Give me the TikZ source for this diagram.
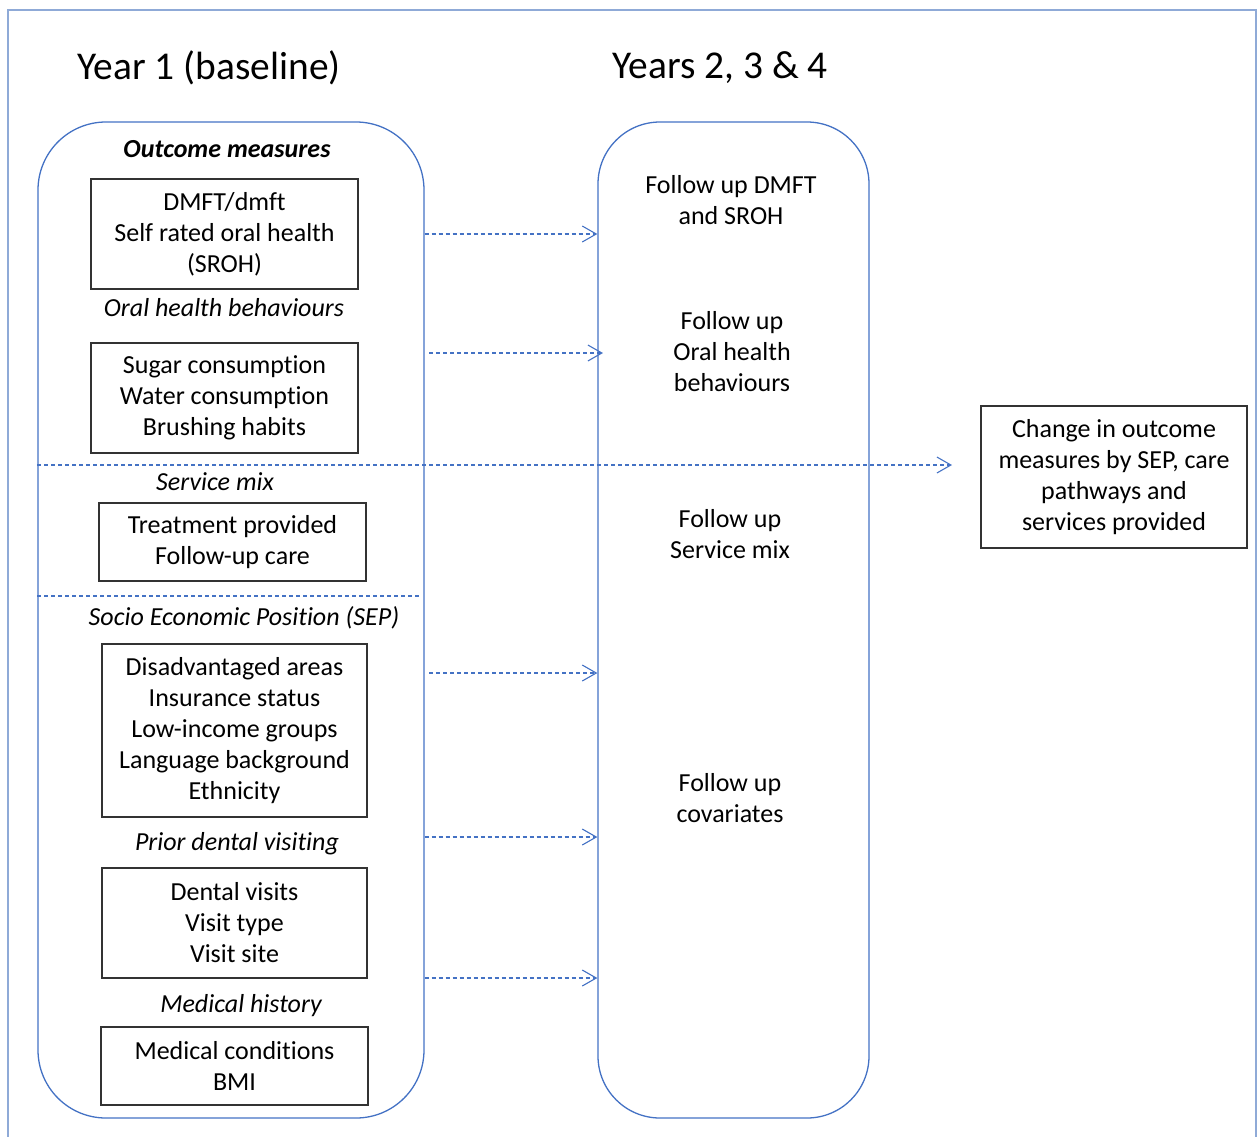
\documentclass[tikz,border=0pt]{standalone}
\usepackage{fontspec}
\setmainfont{Carlito}[Ligatures=NoCommon]
\usetikzlibrary{arrows.meta}
\definecolor{lineblue}{RGB}{68,114,196}
\definecolor{frameblue}{RGB}{143,170,215}
\tikzset{
  txt/.style={font=\fontsize{26}{31}\selectfont, align=center, inner sep=0pt},
  itembox/.style={txt, draw=black!80, line width=1.2pt},
  head/.style={txt, font=\fontsize{26}{31}\selectfont\itshape},
  stage/.style={draw=lineblue, line width=1.3pt, rounded corners=68pt, inner sep=0pt},
  flow/.style={draw=lineblue, line width=1.1pt, dash pattern=on 4pt off 3pt},
  tip/.style={-{Straight Barb[length=14pt,width=16pt,line width=1.1pt]}},
}
\begin{document}
\begin{tikzpicture}[x=1pt,y=-1pt]
\path[use as bounding box] (0,0) rectangle (1258,1136);
\clip (0,0) rectangle (1258,1136);
% frame
\draw[frameblue, line width=1.2pt] (8,1150) -- (8,10) -- (1256,10) -- (1256,1150);
% titles
\node[txt, font=\fontsize{39.4}{46}\selectfont] (t1) at (209,68) {Year 1 (baseline)};
\node[txt, font=\fontsize{39.4}{46}\selectfont] (t2) at (720,68) {Years 2, 3 \& 4};
% the two stages
\node[stage, minimum width=386pt, minimum height=996pt] (base) at (231,620) {};
\node[stage, minimum width=271pt, minimum height=996pt, rounded corners=62pt] (follow) at (733.5,620) {};
% baseline
\node[head, font=\fontsize{26}{31}\selectfont\bfseries\itshape] (h1) at (227,149) {Outcome measures};
\node[itembox, minimum width=267pt, minimum height=110pt] (dmft) at (224.5,234) {DMFT/dmft\\Self rated oral health\\(SROH)};
\node[head] (h2) at (224,308) {Oral health behaviours};
\node[itembox, minimum width=267pt, minimum height=110pt] (sugar) at (224.5,398) {Sugar consumption\\Water consumption\\Brushing habits};
\node[head] (h3) at (215,482) {Service mix};
\node[itembox, minimum width=267pt, minimum height=78pt] (treat) at (232.5,542) {Treatment provided\\Follow-up care};
\node[head] (h4) at (244,618) {Socio Economic Position (SEP)};
\node[itembox, minimum width=265pt, minimum height=173pt] (sep) at (234.5,730.5) {Disadvantaged areas\\Insurance status\\Low-income groups\\Language background\\Ethnicity};
\node[head] (h5) at (237,844) {Prior dental visiting};
\node[itembox, minimum width=265pt, minimum height=110pt] (visit) at (234.5,923) {Dental visits\\Visit type\\Visit site};
\node[head] (h6) at (241,1006) {Medical history};
\node[itembox, minimum width=267pt, minimum height=78pt] (med) at (234.5,1066) {Medical conditions\\BMI};
% follow up
\node[txt] (f1) at (731,200.5) {Follow up DMFT\\and SROH};
\node[txt] (f2) at (732,352) {Follow up\\Oral health\\behaviours};
\node[txt] (f3) at (730,534.5) {Follow up\\Service mix};
\node[txt] (f4) at (730,798.5) {Follow up\\covariates};
% result
\node[itembox, minimum width=266pt, minimum height=142pt] (res) at (1114,477) {Change in outcome\\measures by SEP, care\\pathways and\\services provided};
% connectors
\coordinate (s1) at (base.east |- dmft);
\coordinate (e1) at (follow.west |- dmft);
\coordinate (s2) at (429,353);
\coordinate (e2) at (603,353);
\coordinate (s3) at (base.west |- 0,465);
\coordinate (e3) at (952,465);
\coordinate (s4) at (base.west |- 0,596);
\coordinate (e4) at (422,596);
\coordinate (s5) at (429,673);
\coordinate (e5) at (follow.west |- s5);
\coordinate (s6) at (base.east |- 0,837);
\coordinate (e6) at (follow.west |- s6);
\coordinate (s7) at (base.east |- 0,978);
\coordinate (e7) at (follow.west |- s7);
\draw[flow, tip] (s1) -- (e1);
\draw[flow, tip] (s2) -- (e2);
\draw[flow, tip] (s3) -- (e3);
\draw[flow] (s4) -- (e4);
\draw[flow, tip] (s5) -- (e5);
\draw[flow, tip] (s6) -- (e6);
\draw[flow, tip] (s7) -- (e7);
\end{tikzpicture}
\end{document}
